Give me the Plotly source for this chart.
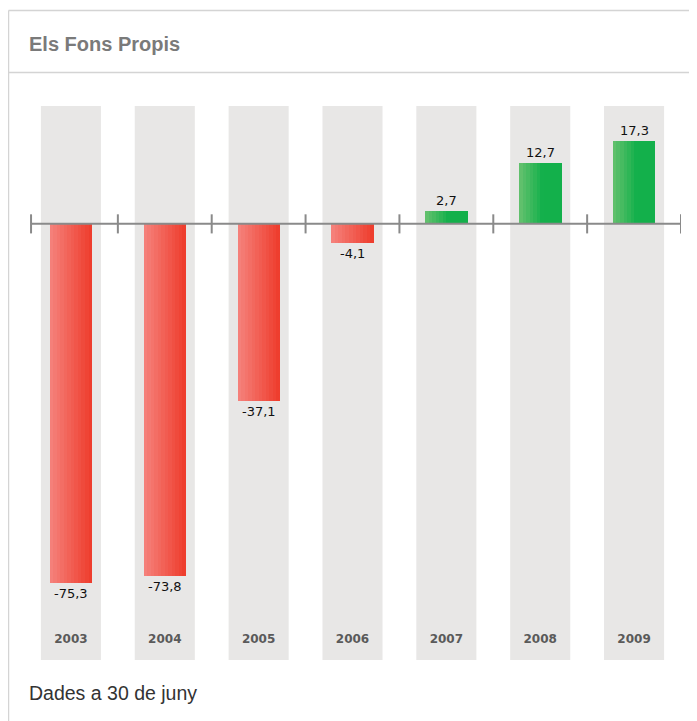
import plotly.graph_objects as go

years = ["2003", "2004", "2005", "2006", "2007", "2008", "2009"]
values = [-75.3, -73.8, -37.1, -4.1, 2.7, 12.7, 17.3]
value_labels = ["-75,3", "-73,8", "-37,1", "-4,1", "2,7", "12,7", "17,3"]
title_text = "Els Fons Propis"
footer_text = "Dades a 30 de juny"

OFF = 8  # page body margin
W, H = 697 - OFF, 721 - OFF
ML, MT = 24 - OFF, 106 - OFF
MR = W - (680.6 - OFF)
MB = H - (660 - OFF)
Y_MIN, Y_MAX = -91.4, 24.7
X_MIN, X_MAX = -0.5, 6.5
PW = W - ML - MR
PH = H - MT - MB


def px(x):
    return (x - OFF - ML) / PW


def py(y):
    return 1 - (y - OFF - MT) / PH


def lerp(c1, c2, t):
    return "rgb(%d,%d,%d)" % tuple(round(a + (b - a) * t) for a, b in zip(c1, c2))


RED_L, RED_R = (245, 128, 122), (238, 62, 46)
GRN_L, GRN_R = (96, 192, 108), (19, 176, 75)

xs = list(range(len(years)))
fig = go.Figure()

# gradient bars built from thin slices
BAR_W = 0.45
N = 12
sw = BAR_W / N
for i in range(N):
    t = i / (N - 1)
    colors = []
    for v in values:
        if v < 0:
            colors.append(lerp(RED_L, RED_R, t))
        else:
            colors.append(lerp(GRN_L, GRN_R, min(1, t * 1.8)))
    fig.add_trace(go.Bar(
        x=xs, y=values, width=sw * 1.08, offset=-BAR_W / 2 + i * sw,
        marker=dict(color=colors, line=dict(width=0)),
        hoverinfo="skip", showlegend=False,
    ))

# year labels
fig.add_trace(go.Scatter(
    x=xs, y=[-87.2] * len(xs), mode="text", text=["<b>%s</b>" % y for y in years],
    textfont=dict(family="DejaVu Sans", size=12, color="#5a5a5a"),
    hoverinfo="skip", showlegend=False, cliponaxis=False,
))

shapes = []
# gray column backgrounds
for x in xs:
    shapes.append(dict(type="rect", xref="x", yref="paper", x0=x - 0.32, x1=x + 0.32,
                       y0=0, y1=1, fillcolor="#e8e7e6", line=dict(width=0), layer="below"))
# axis line and ticks
shapes.append(dict(type="line", xref="x", yref="y", x0=-0.425, x1=6.5, y0=0, y1=0,
                   line=dict(color="#8a8a8a", width=2), layer="above"))
tick_x = [-0.425] + [k + 0.5 for k in range(len(years))]
for tx in tick_x:
    shapes.append(dict(type="line", xref="x", yref="y", x0=tx, x1=tx, y0=-2.0, y1=2.0,
                       line=dict(color="#8a8a8a", width=2), layer="above"))
# frame
frame_c = "#d4d4d4"
shapes.append(dict(type="line", xref="paper", yref="paper", x0=px(8.5), x1=px(700),
                   y0=py(10.5), y1=py(10.5), line=dict(color=frame_c, width=1.5)))
shapes.append(dict(type="line", xref="paper", yref="paper", x0=px(8.5), x1=px(700),
                   y0=py(72.5), y1=py(72.5), line=dict(color=frame_c, width=1.5)))
shapes.append(dict(type="line", xref="paper", yref="paper", x0=px(8.5), x1=px(8.5),
                   y0=py(10.5), y1=py(725), line=dict(color=frame_c, width=1.5)))

annotations = [
    dict(text="<b>%s</b>" % title_text, xref="paper", yref="paper", x=px(27), y=py(44),
         xanchor="left", yanchor="middle", showarrow=False,
         font=dict(family="Liberation Sans", size=20, color="#7a7a7a")),
    dict(text=footer_text, xref="paper", yref="paper", x=px(27), y=py(693),
         xanchor="left", yanchor="middle", showarrow=False,
         font=dict(family="Liberation Sans", size=19.5, color="#333")),
]
# value labels
for x, v, lab in zip(xs, values, value_labels):
    annotations.append(dict(
        text=lab, x=x, y=v, xref="x", yref="y", showarrow=False,
        yanchor="top" if v < 0 else "bottom", yshift=-1 if v < 0 else 1,
        font=dict(family="DejaVu Sans", size=13, color="#111"),
    ))

fig.update_layout(
    width=W, height=H, margin=dict(l=ML, r=MR, t=MT, b=MB, pad=0),
    paper_bgcolor="white", plot_bgcolor="rgba(0,0,0,0)",
    barmode="overlay", bargap=0,
    xaxis=dict(range=[X_MIN, X_MAX], visible=False, fixedrange=True),
    yaxis=dict(range=[Y_MIN, Y_MAX], visible=False, fixedrange=True),
    shapes=shapes, annotations=annotations, showlegend=False,
)

fig.write_html("out.html")
